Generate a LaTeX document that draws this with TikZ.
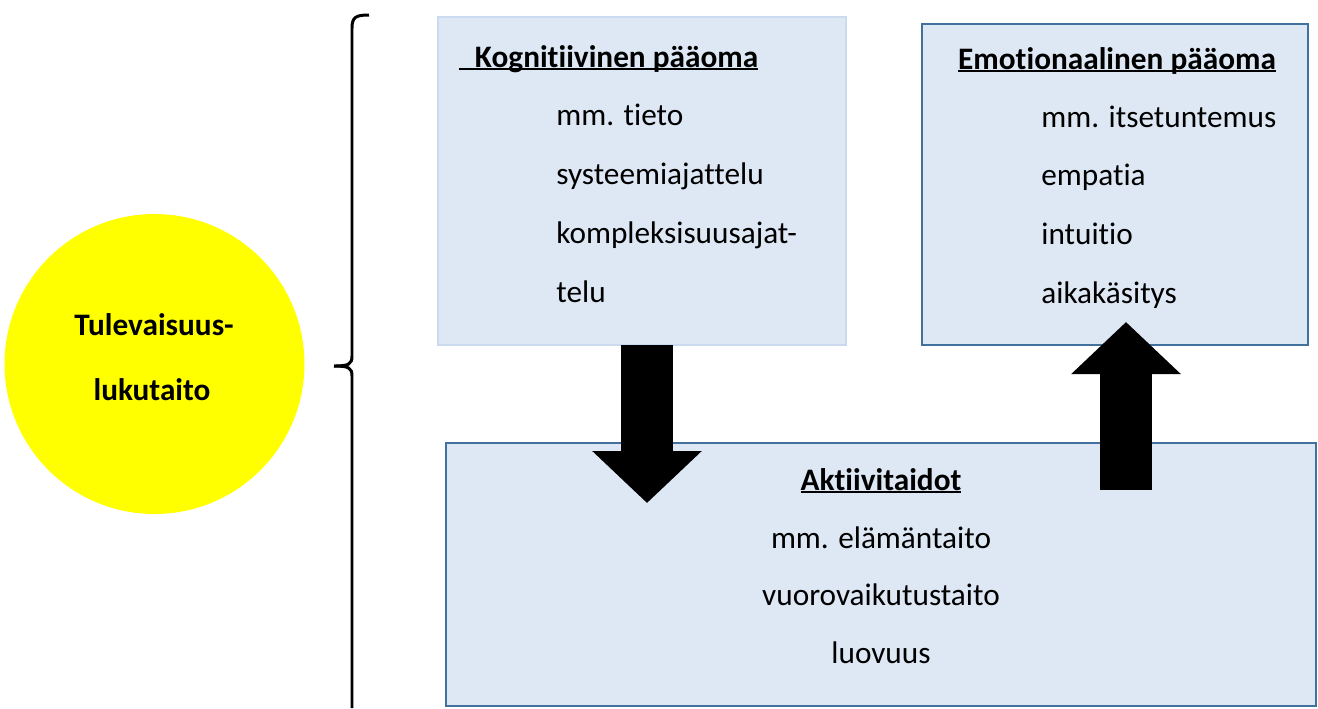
\documentclass[tikz,border=0pt]{standalone}
\usepackage{fontspec}
\setmainfont[Ligatures={NoCommon}]{Carlito}
\usepackage{tikz}
\usetikzlibrary{arrows.meta, positioning, calc}
\usepackage{xcolor}
\definecolor{boxfill}{HTML}{DEE8F5}
\definecolor{boxline}{HTML}{41719C}
\definecolor{paleline}{HTML}{CCDAEF}
\definecolor{sunyellow}{HTML}{FFFF00}

% underline close to the baseline, descenders cross it
\newsavebox\ulbox
\newcommand{\titul}[1]{\sbox\ulbox{#1}\rlap{\rule[-0.11em]{\wd\ulbox}{0.07em}}\usebox\ulbox}

\begin{document}
\begin{tikzpicture}[
  x=0.02cm, y=-0.02cm,
  every node/.style={font=\fontsize{17.8}{21}\selectfont},
  box/.style={draw=boxline, fill=boxfill, line width=1.4pt, inner sep=0pt},
  item/.style={inner sep=0pt, anchor=base west},
  title/.style={inner sep=0pt, font=\fontsize{17.8}{21}\selectfont\bfseries},
  blockarrow/.style={line width=1.03cm, black,
    -{Triangle[length=1.04cm, width=2.13cm]}}
]
  \useasboundingbox (0,0) rectangle (1318,708);

  % Circle
  \node[circle, fill=sunyellow, minimum size=6cm, inner sep=0pt] (tul) at (154.5,364) {};
  \node[title, anchor=base] (tul1) at (154,335) {Tulevaisuus-};
  \node[title, anchor=base] (tul2) at (152,400) {lukutaito};

  % Brace
  \draw[line width=1.7pt] (369,15) .. controls (356,15) and (352,17) .. (352,28)
    -- (352,356) .. controls (352,364) and (349,366) .. (334,366);
  \draw[line width=1.7pt] (352,708) -- (352,376)
    .. controls (352,368) and (349,366) .. (334,366);

  % Kognitiivinen
  \node[box, draw=paleline, line width=1.1pt, minimum width=8.16cm,
    minimum height=6.56cm] (kog) at (642,181) {};
  \node[title, anchor=base west] (kogt) at (459,67)
    {\titul{\hspace{0.5em}Kognitiivinen pääoma}};
  \foreach \t [count=\i from 0] in {mm. tieto, systeemiajattelu,
    kompleksisuusajat-, telu}
    \node[item] (kog\i) at (556,125+59*\i) {\t};

  % Emotionaalinen
  \node[box, minimum width=7.72cm, minimum height=6.42cm] (emo) at (1115,184.5) {};
  \node[title, anchor=base] (emot) at (1117,69) {\titul{Emotionaalinen pääoma}};
  \foreach \t [count=\i from 0] in {mm. itsetuntemus, empatia, intuitio, aikakäsitys}
    \node[item] (emo\i) at (1041,127+58.7*\i) {\t};

  % Aktiivitaidot
  \node[box, minimum width=17.4cm, minimum height=5.26cm] (akt) at (881,574.5) {};
  \node[title, anchor=base] (aktt) at (881,490) {\titul{Aktiivitaidot}};
  \foreach \t [count=\i from 0] in {mm. elämäntaito, vuorovaikutustaito, luovuus}
    \node[item, anchor=base] (akt\i) at (881,548+57.5*\i) {\t};

  % Block arrows
  \coordinate (down1) at (647,345);
  \coordinate (down2) at (647,503);
  \coordinate (up1) at (1126,490);
  \coordinate (up2) at (1126,322);
  \draw[blockarrow] (down1) -- (down2);
  \draw[blockarrow] (up1) -- (up2);
\end{tikzpicture}
\end{document}
